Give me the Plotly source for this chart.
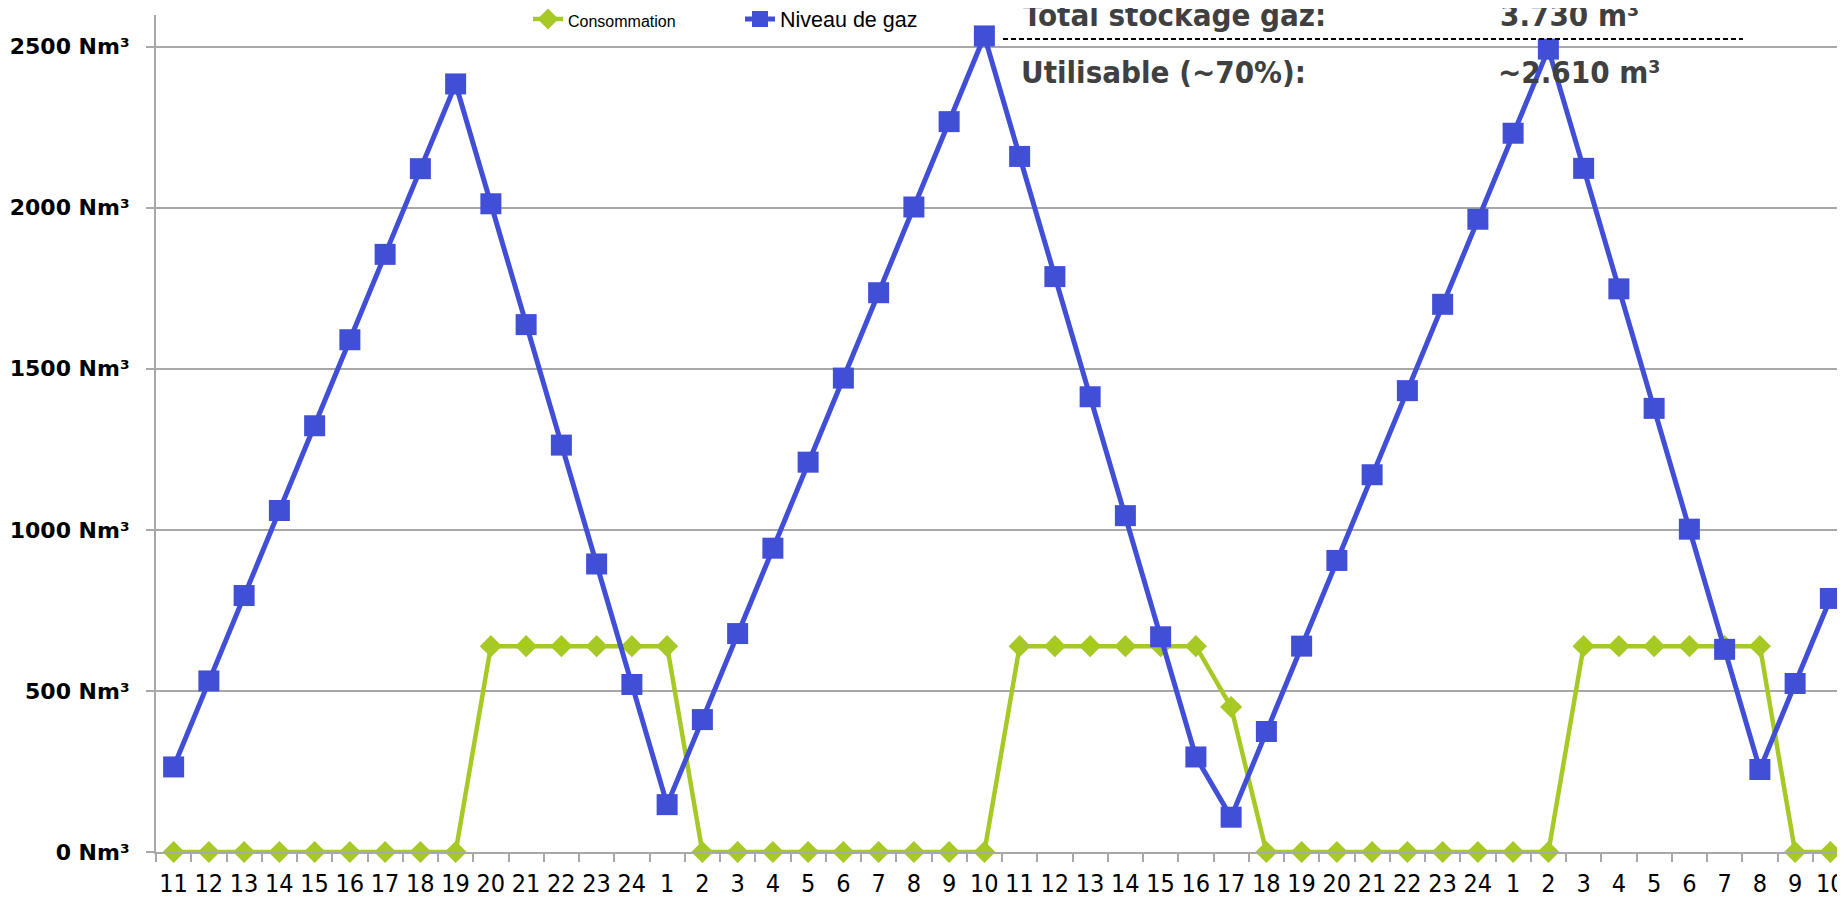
import plotly.graph_objects as go

# ---- data ----
hour_labels = ["11", "12", "13", "14", "15", "16", "17", "18", "19", "20", "21", "22", "23", "24",
               "1", "2", "3", "4", "5", "6", "7", "8", "9", "10", "11", "12", "13", "14", "15", "16",
               "17", "18", "19", "20", "21", "22", "23", "24",
               "1", "2", "3", "4", "5", "6", "7", "8", "9", "10"]

consommation = [0, 0, 0, 0, 0, 0, 0, 0, 0, 639, 639, 639, 639, 639,
                639, 0, 0, 0, 0, 0, 0, 0, 0, 0, 639, 639, 639, 639, 639, 639,
                450, 0, 0, 0, 0, 0, 0, 0,
                0, 0, 639, 639, 639, 639, 639, 639, 0, 0]

niveau_gaz = [264, 531, 796, 1060, 1323, 1590, 1855, 2121, 2384, 2012, 1637, 1263, 894, 520,
              147, 411, 678, 943, 1210, 1471, 1736, 2002, 2267, 2533, 2159, 1786, 1413, 1044, 668, 295,
              108, 374, 639, 905, 1171, 1432, 1700, 1964,
              2231, 2492, 2122, 1748, 1377, 1002, 629, 256, 523, 787]

y_ticks = [0, 500, 1000, 1500, 2000, 2500]
y_ticktext = [f"{v} Nm³" for v in y_ticks]

summary_rows = [("Total stockage gaz:", "3.730 m³"), ("Utilisable (~70%):", "~2.610 m³")]

x_idx = list(range(len(hour_labels)))

BLUE = "#414ED6"
GREEN = "#A6C925"
GRID = "#A8A8A8"

fig = go.Figure()
fig.add_trace(go.Scatter(
    x=x_idx, y=consommation, mode="lines+markers",
    name="<span style='font-size:16px'>Consommation</span>",
    line=dict(color=GREEN, width=4.5),
    marker=dict(symbol="diamond", size=17, color=GREEN),
    cliponaxis=False,
))
fig.add_trace(go.Scatter(
    x=x_idx, y=niveau_gaz, mode="lines+markers",
    name="Niveau de gaz",
    line=dict(color=BLUE, width=5),
    marker=dict(symbol="square", size=21, color=BLUE),
    cliponaxis=False,
))

# The page body adds an 8px offset; layout margins compensate for it.
OFF = 8
W, H = 1845, 897
RL, RT, RB = 156, 15, 852          # plot area edges as seen on screen
ML, MT = RL - OFF, RT - OFF
MB = H - (RB - OFF)
MR = 0
PW = W - ML - MR
PH = H - MT - MB
UNIT = 35.25                        # pixels per category
x_max = -0.5 + PW / UNIT


def px_x(px):
    return (px - RL) / PW


def px_y(py):
    return (RB - py) / PH


fig.update_layout(
    width=W, height=H,
    margin=dict(l=ML, r=MR, t=MT, b=MB, pad=0, autoexpand=False),
    paper_bgcolor="white", plot_bgcolor="white",
    showlegend=True,
    legend=dict(
        orientation="h", x=px_x(528), xanchor="left", y=px_y(19), yanchor="middle",
        font=dict(family="Liberation Sans, Arial, sans-serif", size=21.5, color="#000000"),
        bgcolor="rgba(0,0,0,0)", entrywidthmode="pixels", entrywidth=167,
    ),
    xaxis=dict(
        range=[-0.5, x_max], tickmode="array", tickvals=x_idx, ticktext=hour_labels,
        ticks="", showgrid=False, zeroline=False, automargin=False,
        showline=True, linecolor=GRID, linewidth=2,
        tickfont=dict(family="Liberation Sans Narrow, DejaVu Sans Condensed, Arial Narrow, sans-serif",
                      size=25, color="#000000"),
        ticklabelstandoff=8,
        minor=dict(tickmode="array", tickvals=[i - 0.5 for i in range(len(hour_labels) + 1)],
                   ticks="outside", ticklen=8, tickwidth=2, tickcolor=GRID, showgrid=False),
        fixedrange=True,
    ),
    yaxis=dict(
        range=[0, 2598], tickmode="array", tickvals=y_ticks, ticktext=y_ticktext,
        ticks="outside", ticklen=8, tickwidth=2, tickcolor=GRID,
        showgrid=True, gridcolor=GRID, gridwidth=2, zeroline=False, automargin=False,
        showline=True, linecolor=GRID, linewidth=2,
        tickfont=dict(family="DejaVu Sans, Verdana, sans-serif", size=22, color="#000000",
                      weight="bold"),
        ticklabelstandoff=12,
        fixedrange=True,
    ),
)

ann_font = dict(family="DejaVu Sans Condensed, DejaVu Sans, sans-serif", size=31,
                color="#404040", weight="bold")
row_y = [px_y(35.5), px_y(92)]
for (label, value), yy, lx, vx in zip(summary_rows, row_y, [1021, 1019], [1498, 1496]):
    fig.add_annotation(xref="paper", yref="paper", x=px_x(lx), y=yy, xanchor="left", yanchor="bottom",
                       text=label, showarrow=False, font=ann_font)
    fig.add_annotation(xref="paper", yref="paper", x=px_x(vx), y=yy, xanchor="left", yanchor="bottom",
                       text=value, showarrow=False, font=ann_font)

fig.add_shape(type="line", xref="paper", yref="paper", x0=px_x(1003), x1=px_x(1743),
              y0=px_y(39), y1=px_y(39), line=dict(color="#000000", width=2, dash="5px,3px"))

fig.write_html("out.html")
